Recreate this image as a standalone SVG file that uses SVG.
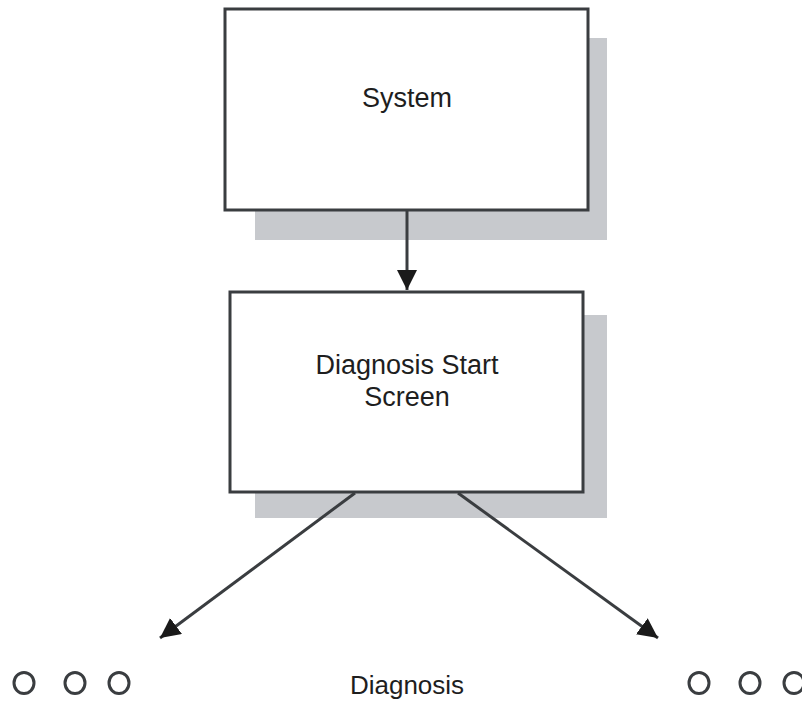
<svg xmlns="http://www.w3.org/2000/svg" width="802" height="702" viewBox="0 0 802 702">
<style>
.shadow{fill:#c7c9cd}
.box{fill:#ffffff;stroke:#3a3d40;stroke-width:3}
.lbl{font-family:"Liberation Sans",Arial,sans-serif;font-size:27px;fill:#1e1e1e;text-anchor:middle}
.conn{stroke:#3a3d40;stroke-width:3;fill:none}
.dot{fill:none;stroke:#3a3d40;stroke-width:3}
</style>
<defs>
<marker id="ah" markerUnits="userSpaceOnUse" markerWidth="24" markerHeight="24" refX="20" refY="10" orient="auto">
<path d="M0,0 L20,10 L0,20 Z" fill="#1a1a1a"/>
</marker>
</defs>
<rect width="802" height="702" fill="#ffffff"/>
<g id="system">
<rect class="shadow" x="255" y="38" width="352" height="202"/>
<rect class="box" x="225" y="9" width="363" height="201"/>
<text class="lbl" x="407" y="107">System</text>
</g>
<g id="diagnosis-start-screen">
<rect class="shadow" x="255" y="315" width="352" height="203"/>
<rect class="box" x="230" y="292" width="353" height="200"/>
<text class="lbl" x="407" y="374">Diagnosis Start</text>
<text class="lbl" x="407" y="406">Screen</text>
</g>
<g id="diagnosis">
<text class="lbl" x="407" y="694" style="font-size:26px">Diagnosis</text>
<ellipse class="dot" cx="24" cy="683" rx="10" ry="10.5"/>
<ellipse class="dot" cx="75" cy="683" rx="10" ry="10.5"/>
<ellipse class="dot" cx="119" cy="683" rx="10" ry="10.5"/>
<ellipse class="dot" cx="699" cy="683" rx="10" ry="10.5"/>
<ellipse class="dot" cx="750" cy="683" rx="10" ry="10.5"/>
<ellipse class="dot" cx="794" cy="683" rx="10" ry="10.5"/>
</g>
<g id="connectors">
<line class="conn" x1="407" y1="211" x2="407" y2="290" marker-end="url(#ah)"/>
<line class="conn" x1="355" y1="493" x2="160" y2="638" marker-end="url(#ah)"/>
<line class="conn" x1="458" y1="493" x2="658" y2="638" marker-end="url(#ah)"/>
</g>
</svg>
